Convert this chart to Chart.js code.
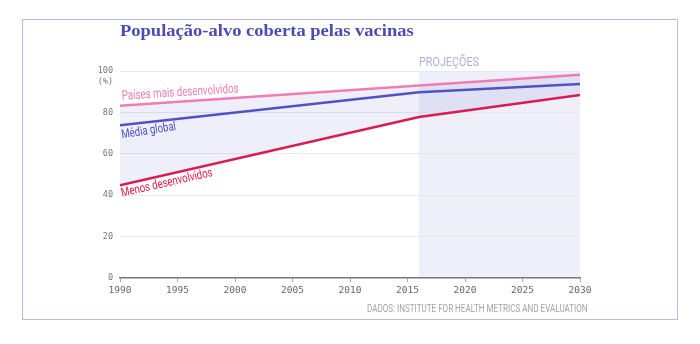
<!DOCTYPE html>
<html><head><meta charset="utf-8">
<script src="https://cdn.jsdelivr.net/npm/chart.js@4"></script>
<style>
html,body{margin:0;padding:0;background:#fff;}
#wrap{position:relative;width:700px;height:344px;overflow:hidden;}
#frame{position:absolute;left:22px;top:18.5px;width:655.5px;height:301.5px;border:1.5px solid #b9b9e6;box-sizing:border-box;}
#c{position:absolute;left:0;top:0;}
#title{position:absolute;left:120px;top:23px;font:bold 16px "Liberation Serif",serif;line-height:16px;color:#4b4bb4;white-space:nowrap;transform-origin:0 0;}
#source{position:absolute;top:304px;font:10px Roboto,sans-serif;line-height:10px;color:#a3a3a3;white-space:nowrap;transform-origin:0 0;}
</style></head>
<body>
<div id="wrap">
<div id="frame"></div>
<canvas id="c" width="700" height="344"></canvas>
<div id="title">População-alvo coberta pelas vacinas</div>
<div id="source">DADOS: INSTITUTE FOR HEALTH METRICS AND EVALUATION</div>
</div>
<script>
// ---- data ----
const years = [1990, 2016, 2030];
const maisDesenvolvidos = [83.2, 93.0, 98.2];
const mediaGlobal = [73.8, 89.7, 93.7];
const menosDesenvolvidos = [44.8, 77.8, 88.4];
const projectionStart = 2016;
const projectionEnd = 2030;
const xTicks = [1990, 1995, 2000, 2005, 2010, 2015, 2020, 2025, 2030];
const yTicks = [0, 20, 40, 60, 80, 100];
const seriesNames = ['Países mais desenvolvidos', 'Média global', 'Menos desenvolvidos'];
const projLabel = 'PROJEÇÕES';
const unitLabel = '(%)';

const pts = arr => years.map((yr, i) => ({x: yr, y: arr[i]}));

function fitText(ctx, text, x, y, angleDeg, width, font, color, align) {
  ctx.save();
  ctx.font = font;
  const w = ctx.measureText(text).width;
  ctx.translate(x, y);
  ctx.rotate(angleDeg * Math.PI / 180);
  ctx.scale(width / w, 1);
  ctx.fillStyle = color;
  ctx.textBaseline = 'alphabetic';
  ctx.textAlign = align || 'left';
  ctx.fillText(text, 0, 0);
  ctx.restore();
}

const decor = {
  id: 'decor',
  beforeDraw(chart) {
    const {ctx, scales: {x, y}} = chart;
    const x0 = x.getPixelForValue(projectionStart), x1 = x.getPixelForValue(projectionEnd);
    const y0 = y.getPixelForValue(100), y1 = y.getPixelForValue(0);
    ctx.save();
    ctx.fillStyle = 'rgba(100,100,210,0.1)';
    ctx.fillRect(x0, y0, x1 - x0, y1 - y0);
    ctx.restore();
  },
  afterDraw(chart) {
    const {ctx, scales: {x, y}} = chart;
    const lx = x.getPixelForValue(years[0]) + 2;
    fitText(ctx, seriesNames[0], lx, y.getPixelForValue(maisDesenvolvidos[0]) - 6, -3.6, 117, '13px Roboto', '#f07cb4');
    fitText(ctx, seriesNames[1], lx, y.getPixelForValue(mediaGlobal[0]) + 13, -8.7, 55, '12.5px Roboto', '#5050c4');
    fitText(ctx, seriesNames[2], lx, y.getPixelForValue(menosDesenvolvidos[0]) + 11.4, -12.8, 93.5, '12.5px Roboto', '#e0184c');
    fitText(ctx, projLabel, x.getPixelForValue(projectionStart), y.getPixelForValue(100) - 5, 0, 60, '12px Roboto', '#aab0e6');
    ctx.save();
    ctx.font = '8.5px "DejaVu Sans Mono"';
    ctx.fillStyle = '#777';
    ctx.textAlign = 'right';
    ctx.textBaseline = 'middle';
    ctx.fillText(unitLabel, x.left - 7, y.getPixelForValue(100) + 10.5);
    ctx.restore();
  }
};

new Chart(document.getElementById('c'), {
  type: 'line',
  data: {
    datasets: [
      {data: pts(maisDesenvolvidos), borderColor: '#f07cb4', borderWidth: 2.5, pointRadius: 0,
       fill: {target: 2}, backgroundColor: 'rgba(100,100,210,0.1)'},
      {data: pts(mediaGlobal), borderColor: '#5050c4', borderWidth: 2.5, pointRadius: 0, fill: false},
      {data: pts(menosDesenvolvidos), borderColor: '#e0184c', borderWidth: 2.5, pointRadius: 0, fill: false}
    ]
  },
  options: {
    responsive: false,
    animation: false,
    layout: {padding: {left: 0, top: 71, right: 120, bottom: 0}},
    plugins: {legend: {display: false}, tooltip: {enabled: false}},
    scales: {
      x: {
        type: 'linear', min: 1990, max: 2030,
        afterBuildTicks: s => { s.ticks = xTicks.map(v => ({value: v})); },
        afterFit: s => { s.height = 66; },
        ticks: {callback: v => String(v), color: '#666', padding: 3, maxRotation: 0,
                font: {family: 'DejaVu Sans Mono', size: 9.5}},
        grid: {drawOnChartArea: false, drawTicks: true, tickLength: 4, tickColor: '#aaa'},
        border: {display: true, color: '#777', width: 1.5}
      },
      y: {
        min: 0, max: 100,
        afterBuildTicks: s => { s.ticks = yTicks.map(v => ({value: v})); },
        afterFit: s => { s.width = 120; },
        ticks: {color: '#777', padding: 7, font: {family: 'DejaVu Sans Mono', size: 8.5}},
        grid: {drawTicks: false, color: c => c.tick && c.tick.value === 0 ? 'rgba(0,0,0,0)' : '#e8e8ec', lineWidth: 1},
        border: {display: false}
      }
    }
  },
  plugins: [decor]
});

// fit title & source widths to the reference
(function(){
  const t = document.getElementById('title');
  t.style.transform = 'scaleX(' + (294 / t.offsetWidth) + ')';
  const s = document.getElementById('source');
  const k = 221 / s.offsetWidth;
  s.style.left = (587.7 - 221) + 'px';
  s.style.transform = 'scaleX(' + k + ')';
})();
</script>
</body></html>
